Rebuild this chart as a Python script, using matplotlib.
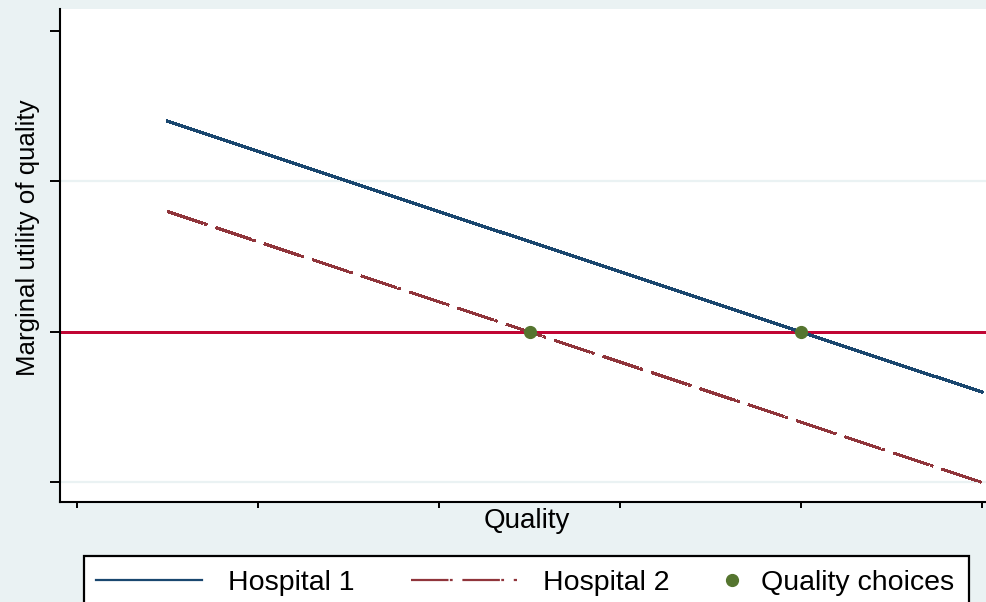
import matplotlib
matplotlib.use("Agg")
import matplotlib.pyplot as plt
from matplotlib.patches import Rectangle

plt.rcParams['font.family'] = ['Liberation Sans', 'DejaVu Sans']
plt.rcParams['lines.scale_dashes'] = False

# data
quality = [0.5, 5.0]
hospital1 = [1.4, -0.4]
hospital2 = [0.8, -1.0]
choice_x = [2.5, 4.0]
choice_y = [0.0, 0.0]
x_ticks = [0, 1, 2, 3, 4, 5]
y_ticks = [-1, 0, 1, 2]
grid_y = [-1, 1]

bg = '#EAF2F3'
navy = '#1A476F'
maroon = '#90353B'
green = '#55752F'
cranberry = '#C10534'

W, H = 987, 602
fig = plt.figure(figsize=(W / 100, H / 100), dpi=100, facecolor=bg)
ax = fig.add_axes([60 / W, 1 - 502 / H, 930 / W, 493 / H])
ax.set_facecolor('white')

for g in grid_y:
    ax.axhline(g, color=bg, lw=1.6, zorder=1)
ax.axhline(0, color=cranberry, lw=1.9, zorder=2, antialiased=False)

h1, = ax.plot(quality, hospital1, color=navy, lw=1.6, zorder=3,
              antialiased=False, label='Hospital 1')
h2, = ax.plot(quality, hospital2, color=maroon, lw=1.6, zorder=3,
              antialiased=False, dashes=(27, 1, 2, 7), label='Hospital 2')
h3, = ax.plot(choice_x, choice_y, 'o', color=green, ms=8.5, zorder=4,
              label='Quality choices')

ax.set_xlim(-0.094, 5.044)
ax.set_ylim(-1.13, 2.146)
ax.set_xticks(x_ticks)
ax.set_yticks(y_ticks)
ax.set_xticklabels([])
ax.set_yticklabels([])
ax.tick_params(axis='y', direction='out', length=7.2, width=1.4, color='black')
ax.tick_params(axis='x', direction='out', length=4.5, width=1.4, color='black')
for s in ['top', 'right']:
    ax.spines[s].set_visible(False)
for s in ['left', 'bottom']:
    ax.spines[s].set_linewidth(1.5)
    ax.spines[s].set_color('black')

fig.text(28 / W, 1 - 238 / H, 'Marginal utility of quality', rotation=90,
         ha='center', va='center', fontsize=18.6)
fig.text(527 / W, 1 - 528 / H, 'Quality', ha='center', va='baseline', fontsize=20)

# legend box, runs off the bottom edge like the reference
fig.patches.append(Rectangle((84 / W, -0.05), 885 / W, 0.05 + (1 - 556 / H),
                             transform=fig.transFigure, facecolor='white',
                             edgecolor='black', lw=1.6, zorder=1))

ly = 1 - 583 / H
entries = [(h1, 96, 3.72, 0.91), (h2, 411, 3.72, 0.91), (h3, 718, 1.0, 0.51)]
for handle, x0, hl, pad in entries:
    leg = fig.legend(handles=[handle], loc='center left', bbox_to_anchor=(x0 / W, ly),
                     frameon=False, fontsize=20.5, handlelength=hl, handletextpad=pad,
                     borderpad=0, borderaxespad=0, numpoints=1)
    leg.set_zorder(5)

fig.savefig('out.png', dpi=100, facecolor=bg)
